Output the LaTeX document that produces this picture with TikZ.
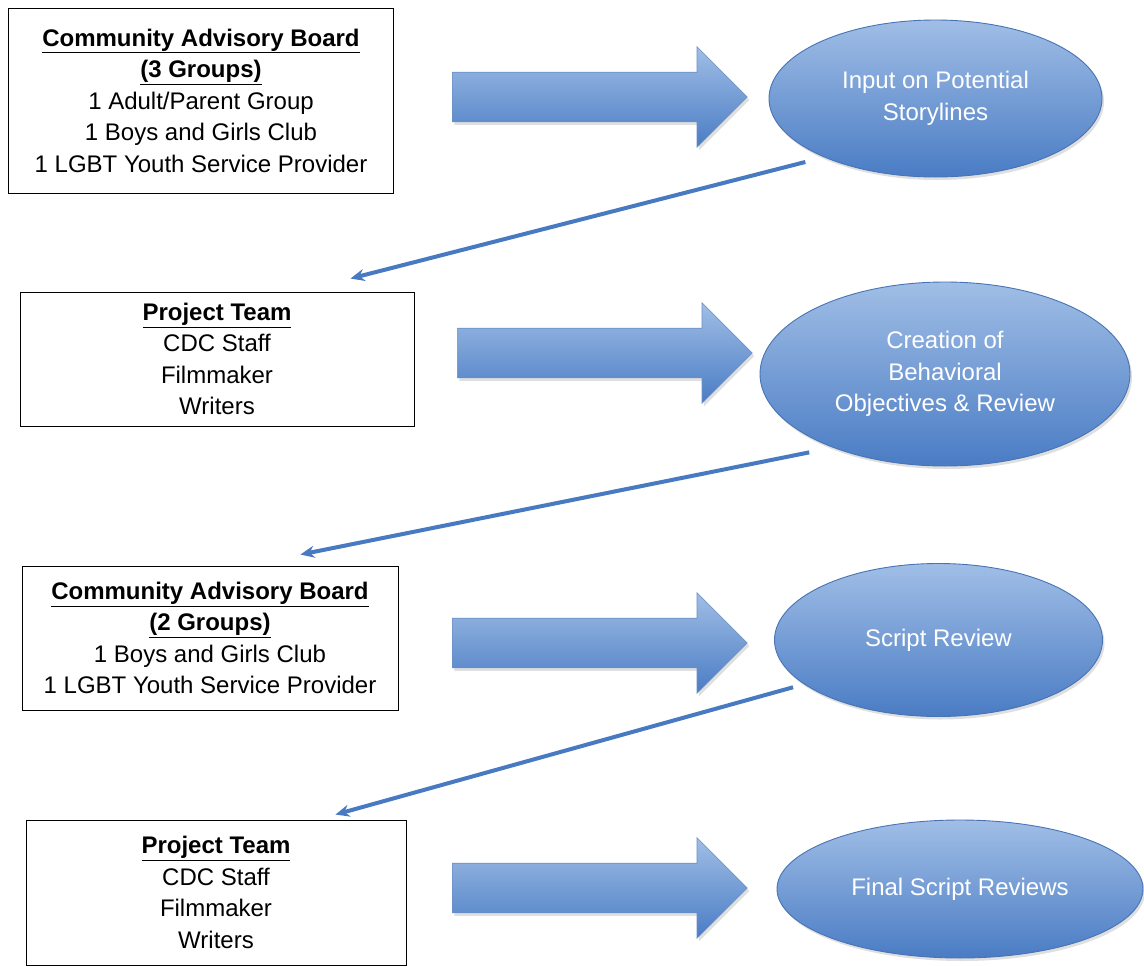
\documentclass[tikz,border=0pt]{standalone}
\usepackage{fontspec}
\setmainfont{Liberation Sans}
\usepackage{xcolor}
\definecolor{flowtop}{RGB}{160,190,230}
\definecolor{flowbot}{RGB}{74,124,196}
\definecolor{flowedge}{RGB}{70,116,180}
\definecolor{linkblue}{RGB}{72,122,194}
\usetikzlibrary{shapes.geometric, shapes.arrows, arrows.meta, calc, shadows}
\tikzset{
  groupbox/.style={
    rectangle, draw=black, line width=0.9pt, fill=white,
    align=center, inner sep=0pt,
    font=\fontsize{24}{31.5}\selectfont},
  stagebubble/.style={
    ellipse, draw=flowedge, line width=0.9pt, inner sep=0pt,
    top color=flowtop, bottom color=flowbot, text=white,
    align=center, font=\fontsize{24}{31.5}\selectfont,
    drop shadow={opacity=0.25, shadow xshift=2pt, shadow yshift=-3pt}},
  fatarrow/.style={
    single arrow, draw=flowedge!80, line width=0.6pt, inner sep=0pt,
    text height=24.5pt, text depth=24.5pt, anchor=tail,
    minimum height=295pt, single arrow head extend=25.5pt,
    top color=flowtop, bottom color=flowbot,
    drop shadow={opacity=0.25, shadow xshift=2pt, shadow yshift=-3pt}},
  backlink/.style={-{Stealth[length=14pt, width=12pt]}, line width=4pt, linkblue},
}
\newcommand{\boxhead}[1]{\textbf{\underline{#1}}}

\begin{document}
\begin{tikzpicture}[x=1pt, y=-1pt]
  \useasboundingbox (0,0) rectangle (1144,967);
  % left column: who takes part
  \node[groupbox, minimum width=385pt, minimum height=185pt] (cab1) at (201,100.5)
    {\boxhead{Community Advisory Board}\\\boxhead{(3 Groups)}\\1 Adult/Parent Group\\1 Boys and Girls Club\\1 LGBT Youth Service Provider};
  \node[groupbox, minimum width=394pt, minimum height=134pt] (team1) at (217,359)
    {\boxhead{Project Team}\\CDC Staff\\Filmmaker\\Writers};
  \node[groupbox, minimum width=376pt, minimum height=144pt] (cab2) at (210,638)
    {\boxhead{Community Advisory Board}\\\boxhead{(2 Groups)}\\1 Boys and Girls Club\\1 LGBT Youth Service Provider};
  \node[groupbox, minimum width=380pt, minimum height=145pt] (team2) at (216,892.5)
    {\boxhead{Project Team}\\CDC Staff\\Filmmaker\\Writers};
  % right column: what they do
  \node[stagebubble, minimum width=333pt, minimum height=157pt] (storyin) at (935.5,98.5)
    {Input on Potential\\Storylines};
  \node[stagebubble, minimum width=370pt, minimum height=184pt] (objrev) at (945,374)
    {Creation of\\Behavioral\\Objectives \& Review};
  \node[stagebubble, minimum width=328pt, minimum height=153pt] (scriptrev) at (938.5,640)
    {Script Review};
  \node[stagebubble, minimum width=366pt, minimum height=138pt] (finalrev) at (960,889)
    {Final Script Reviews};
  % wide arrows
  \node[fatarrow] (go1) at (452,97) {};
  \node[fatarrow] (go2) at (457,353) {};
  \node[fatarrow] (go3) at (452,643) {};
  \node[fatarrow] (go4) at (452,888) {};
  % return links
  \coordinate (out1) at ($(storyin.center)!1.12!(storyin.206)$);
  \coordinate (out2) at ($(objrev.center)!1.12!(objrev.210)$);
  \coordinate (out3) at ($(scriptrev.center)!1.077!(scriptrev.198)$);
  \coordinate (in2) at ($(team1.north east)+(-64,-13)$);
  \coordinate (in3) at ($(cab2.north east)+(-98,-11)$);
  \coordinate (in4) at ($(team2.north east)+(-71,-5)$);
  \draw[backlink] (out1) -- (in2);
  \draw[backlink] (out2) -- (in3);
  \draw[backlink] (out3) -- (in4);
\end{tikzpicture}
\end{document}
